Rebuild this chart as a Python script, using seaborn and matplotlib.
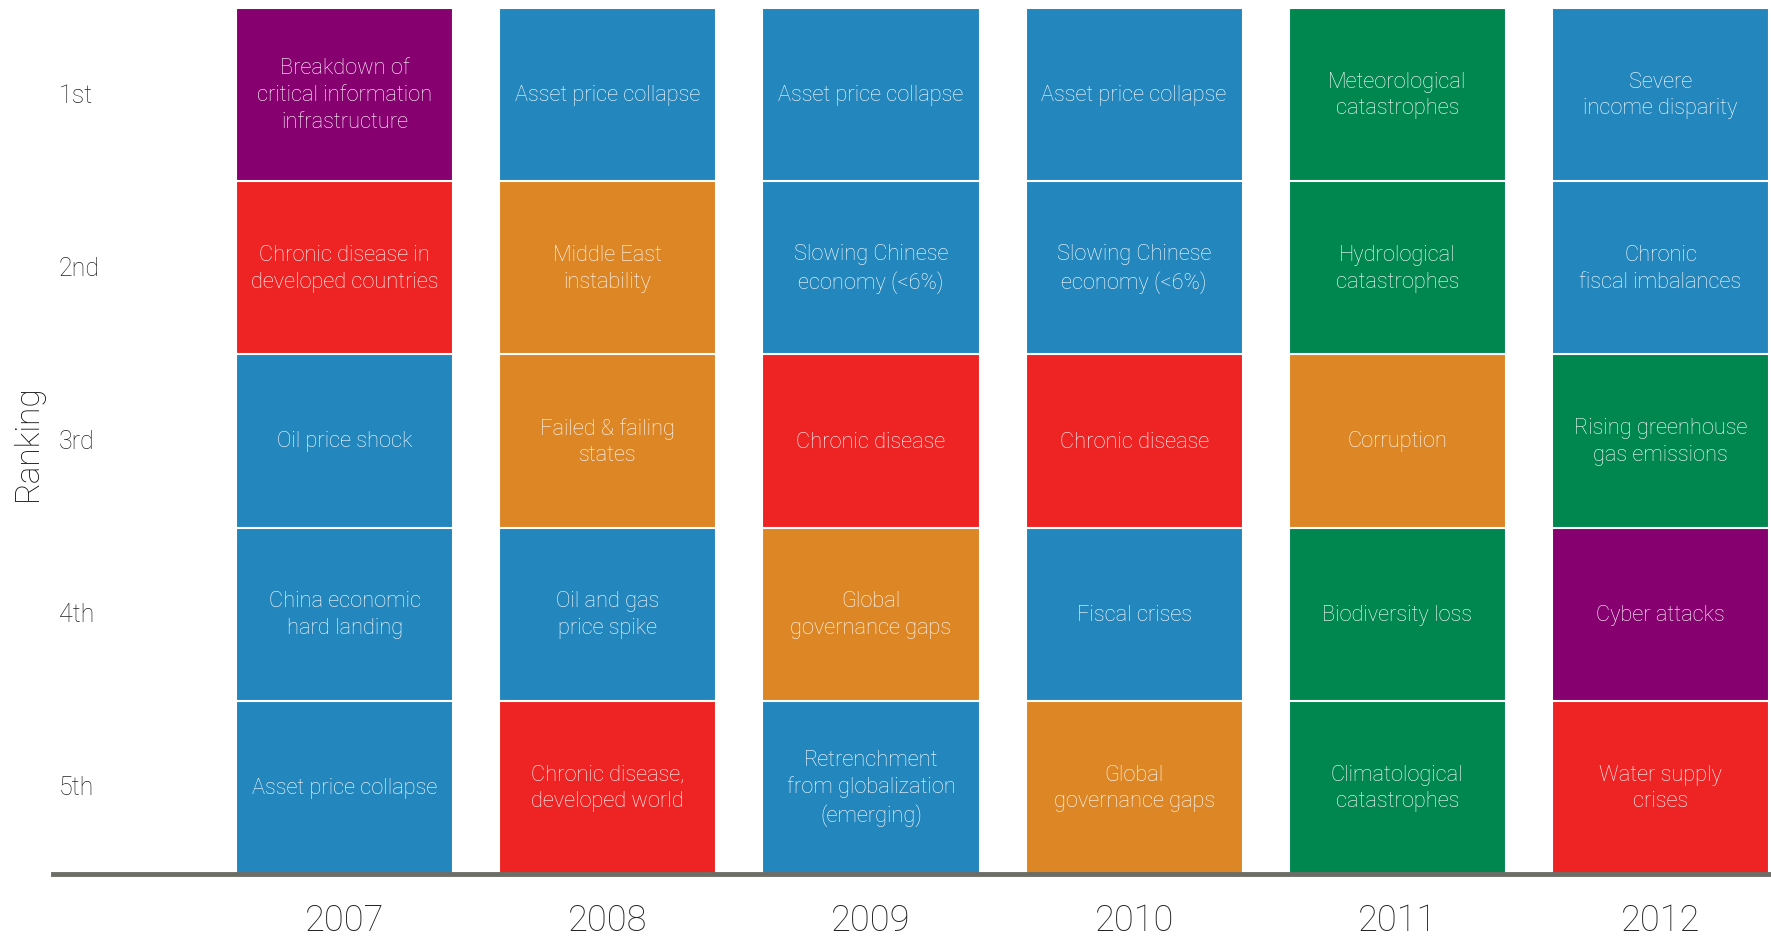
import matplotlib
matplotlib.use('Agg')
import matplotlib.pyplot as plt
import seaborn as sns
import pandas as pd

# data
years = ['2007', '2008', '2009', '2010', '2011', '2012']
rank_labels = ['1st', '2nd', '3rd', '4th', '5th']

risks_2007 = ['Breakdown of\ncritical information\ninfrastructure', 'Chronic disease in\ndeveloped countries',
              'Oil price shock', 'China economic\nhard landing', 'Asset price collapse']
risks_2008 = ['Asset price collapse', 'Middle East\ninstability', 'Failed & failing\nstates',
              'Oil and gas\nprice spike', 'Chronic disease,\ndeveloped world']
risks_2009 = ['Asset price collapse', 'Slowing Chinese\neconomy (<6%)', 'Chronic disease',
              'Global\ngovernance gaps', 'Retrenchment\nfrom globalization\n(emerging)']
risks_2010 = ['Asset price collapse', 'Slowing Chinese\neconomy (<6%)', 'Chronic disease',
              'Fiscal crises', 'Global\ngovernance gaps']
risks_2011 = ['Meteorological\ncatastrophes', 'Hydrological\ncatastrophes', 'Corruption',
              'Biodiversity loss', 'Climatological\ncatastrophes']
risks_2012 = ['Severe\nincome disparity', 'Chronic\nfiscal imbalances', 'Rising greenhouse\ngas emissions',
              'Cyber attacks', 'Water supply\ncrises']

cats_2007 = ['Technological', 'Societal', 'Economic', 'Economic', 'Economic']
cats_2008 = ['Economic', 'Geopolitical', 'Geopolitical', 'Economic', 'Societal']
cats_2009 = ['Economic', 'Economic', 'Societal', 'Geopolitical', 'Economic']
cats_2010 = ['Economic', 'Economic', 'Societal', 'Economic', 'Geopolitical']
cats_2011 = ['Environmental', 'Environmental', 'Geopolitical', 'Environmental', 'Environmental']
cats_2012 = ['Economic', 'Economic', 'Environmental', 'Technological', 'Societal']

categories = ['Economic', 'Environmental', 'Geopolitical', 'Societal', 'Technological']
cat_colors = {'Economic': '#2386bd', 'Environmental': '#00874f', 'Geopolitical': '#dd8626',
              'Societal': '#ee2424', 'Technological': '#870070'}

all_risks = [risks_2007, risks_2008, risks_2009, risks_2010, risks_2011, risks_2012]
all_cats = [cats_2007, cats_2008, cats_2009, cats_2010, cats_2011, cats_2012]

rows = []
for y, rs, cs in zip(years, all_risks, all_cats):
    for r, (risk, cat) in enumerate(zip(rs, cs), start=1):
        rows.append({'year': y, 'rank': r, 'risk': risk, 'category': cat})
df = pd.DataFrame(rows)
n_ranks = len(rank_labels)
# each rank layer is drawn as a bar reaching from the bottom up to the top of its cell
df['height'] = n_ranks + 1 - df['rank']

sns.set_style('white')
plt.rcParams['font.family'] = ['Roboto', 'DejaVu Sans']

fig = plt.figure(figsize=(17.71, 9.37), dpi=100)
ax = fig.add_axes([53 / 1771, 62 / 937, 1718 / 1771, 866 / 937])

for r in range(1, n_ranks + 1):
    sub = df[df['rank'] == r]
    sns.barplot(data=sub, x='year', y='height', hue='category', order=years,
                hue_order=categories, palette=cat_colors, dodge=False, width=0.825,
                saturation=1, errorbar=None, edgecolor='white', linewidth=1.5,
                legend=False, ax=ax)

# labels inside cells
for i, y in enumerate(years):
    for _, row in df[df['year'] == y].iterrows():
        ax.text(i, row['height'] - 0.5, row['risk'], ha='center', va='center',
                color='white', fontsize=15.7, fontweight='light', linespacing=1.35)

# rank labels
for r, lab in enumerate(rank_labels, start=1):
    ax.text(-1.085, n_ranks + 0.5 - r, lab, ha='left', va='center',
            fontsize=18, color='#222222', fontweight='light')

ax.set_xlim(-1.108, 5.42)
ax.set_ylim(0, n_ranks)
ax.set_yticks([])
ax.set_xlabel('')
ax.set_ylabel('')
ax.tick_params(axis='x', length=0, pad=20, labelsize=26, labelcolor='#222222')
for lab in ax.get_xticklabels():
    lab.set_fontweight('light')

for s in ['top', 'right', 'left']:
    ax.spines[s].set_visible(False)
ax.spines['bottom'].set_color('#6d6d67')
ax.spines['bottom'].set_linewidth(3.5)
ax.spines['bottom'].set_zorder(5)

fig.text(28 / 1771, 1 - 443 / 937, 'Ranking', rotation=90, ha='center', va='center',
         fontsize=24, color='#111111', fontweight='light')

plt.savefig('out.png', dpi=100)
